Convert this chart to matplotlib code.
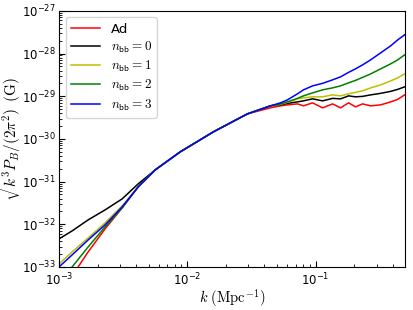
import numpy as np
import matplotlib
matplotlib.use("Agg")
import matplotlib.pyplot as plt

plt.rcParams['mathtext.fontset'] = 'cm'

# wavenumber k (Mpc^-1), log10 values
log10_k = [-3.000, -2.898, -2.773, -2.641, -2.508, -2.383, -2.250, -2.055,
           -1.797, -1.531, -1.352, -1.273, -1.219, -1.141, -1.094, -1.023,
           -0.945, -0.867, -0.805, -0.742, -0.688, -0.633, -0.570, -0.492,
           -0.414, -0.359, -0.305]

# log10 of sqrt(k^3 P_B / (2 pi^2)) in Gauss
log10_Ad = [-33.632, -33.211, -32.648, -32.109, -31.617, -31.125, -30.726, -30.304,
            -29.836, -29.414, -29.273, -29.226, -29.203, -29.180, -29.226, -29.156,
            -29.273, -29.180, -29.273, -29.156, -29.250, -29.180, -29.226, -29.203,
            -29.133, -29.074, -28.969]
log10_n0 = [-32.343, -32.156, -31.898, -31.664, -31.406, -31.054, -30.726, -30.304,
            -29.836, -29.414, -29.226, -29.203, -29.168, -29.133, -29.109, -29.062,
            -29.109, -29.051, -29.062, -28.992, -29.015, -29.004, -28.969, -28.933,
            -28.887, -28.840, -28.781]
log10_n1 = [-32.929, -32.648, -32.320, -31.968, -31.570, -31.125, -30.726, -30.304,
            -29.836, -29.414, -29.226, -29.191, -29.144, -29.062, -29.039, -29.015,
            -29.015, -28.969, -28.992, -28.945, -28.910, -28.875, -28.805, -28.734,
            -28.641, -28.570, -28.476]
log10_n2 = [-33.375, -33.000, -32.531, -32.062, -31.617, -31.125, -30.726, -30.304,
            -29.836, -29.414, -29.226, -29.180, -29.133, -29.051, -28.992, -28.922,
            -28.851, -28.805, -28.758, -28.687, -28.629, -28.559, -28.477, -28.359,
            -28.242, -28.148, -28.031]
log10_n3 = [-33.000, -32.718, -32.367, -32.015, -31.593, -31.125, -30.726, -30.304,
            -29.836, -29.414, -29.226, -29.156, -29.086, -28.945, -28.851, -28.758,
            -28.699, -28.617, -28.547, -28.441, -28.359, -28.266, -28.148, -27.984,
            -27.820, -27.680, -27.562]

labels = ['Ad', r'$n_{\mathsf{bb}}=0$', r'$n_{\mathsf{bb}}=1$',
          r'$n_{\mathsf{bb}}=2$', r'$n_{\mathsf{bb}}=3$']
colors = ['r', 'k', 'y', 'g', 'b']
series = [log10_Ad, log10_n0, log10_n1, log10_n2, log10_n3]

fig = plt.figure(figsize=(4.13, 3.10), dpi=100)
ax = fig.add_axes([0.143, 0.139, 0.838, 0.826])

k = 10.0 ** np.array(log10_k)
for s, c, lab in zip(series, colors, labels):
    ax.plot(k, 10.0 ** np.array(s), color=c, lw=1.1, label=lab)

ax.set_xscale('log')
ax.set_yscale('log')
ax.set_xlim(1e-3, 0.5)
ax.set_ylim(1e-33, 1e-27)
ax.tick_params(which='both', direction='in', labelsize=8.5)
ax.tick_params(axis='y', which='both', pad=2.5)
ax.tick_params(which='major', length=4)
ax.tick_params(which='minor', length=2)
ax.set_xlabel(r'$k\ (\mathrm{Mpc}^{-1})$', fontsize=10.5, labelpad=-1)
ax.set_ylabel(r'$\sqrt{k^3 P_B/(2\pi^2)}\ (\mathrm{G})$', fontsize=11)
ax.yaxis.set_label_coords(-0.103, 0.5)
ax.legend(loc='upper left', fontsize=9.5, handlelength=2.2, labelspacing=0.3)

fig.savefig('out.png', dpi=100)
